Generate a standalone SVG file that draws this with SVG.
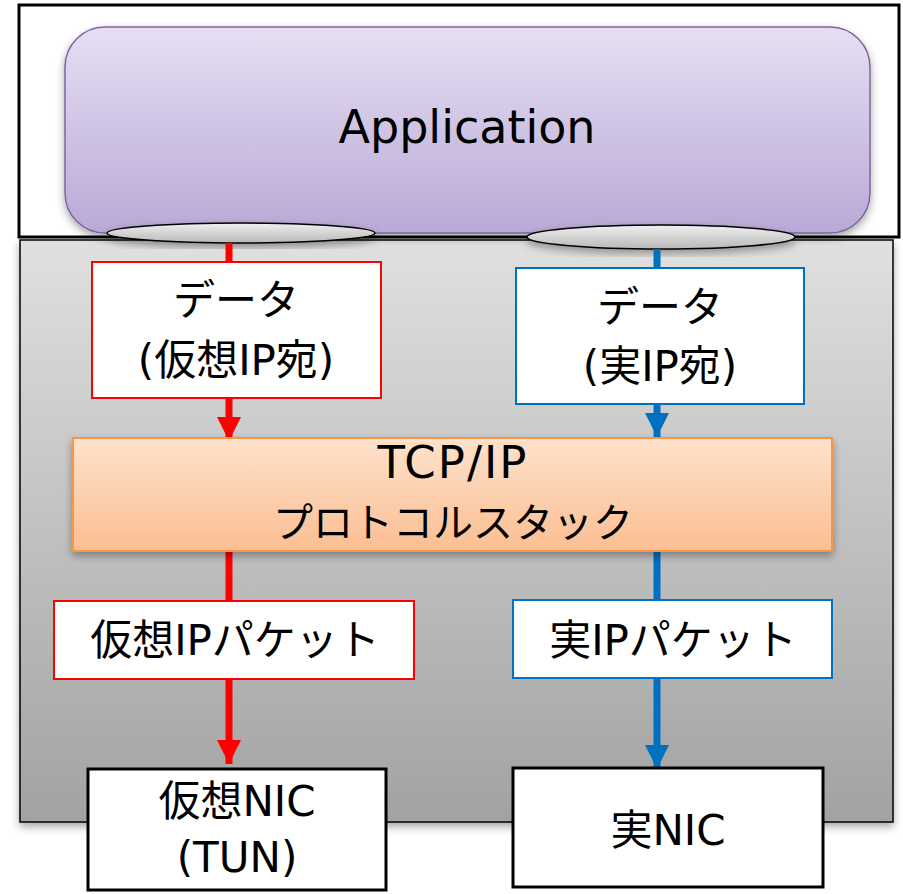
<svg xmlns="http://www.w3.org/2000/svg" width="903" height="894" viewBox="0 0 903 894">
  <defs>
    <linearGradient id="gGray" x1="0" y1="0" x2="0" y2="1">
      <stop offset="0" stop-color="#e0e0e0"/>
      <stop offset="1" stop-color="#a2a2a2"/>
    </linearGradient>
    <linearGradient id="gApp" x1="0" y1="0" x2="0" y2="1">
      <stop offset="0" stop-color="#e6dff3"/>
      <stop offset="1" stop-color="#b9a9d6"/>
    </linearGradient>
    <linearGradient id="gTcp" x1="0" y1="0" x2="0" y2="1">
      <stop offset="0" stop-color="#fee2cc"/>
      <stop offset="1" stop-color="#fbbe92"/>
    </linearGradient>
    <linearGradient id="gPort" x1="0" y1="0" x2="0" y2="1">
      <stop offset="0" stop-color="#f0f0f0"/>
      <stop offset="1" stop-color="#b8b8b8"/>
    </linearGradient>
    <filter id="shadow" x="-10%" y="-20%" width="120%" height="150%">
      <feDropShadow dx="0" dy="4" stdDeviation="4" flood-color="#000" flood-opacity="0.35"/>
    </filter>
    <marker id="headRed" markerUnits="userSpaceOnUse" markerWidth="24" markerHeight="24" refX="24" refY="12" orient="auto">
      <path d="M0,0 L24,12 L0,24 Z" fill="#ff0000"/>
    </marker>
    <marker id="headBlue" markerUnits="userSpaceOnUse" markerWidth="24" markerHeight="24" refX="24" refY="12" orient="auto">
      <path d="M0,0 L24,12 L0,24 Z" fill="#0070c0"/>
    </marker>
  </defs>
  <style>
    text { font-family: "DejaVu Sans", "Noto Sans CJK JP", sans-serif; fill: #000; text-anchor: middle; }
    .lbl { font-size: 42px; }
    .big { font-size: 46px; }
    .red { stroke: #ff0000; stroke-width: 7; fill: none; }
    .blue { stroke: #0070c0; stroke-width: 7; fill: none; }
    .boxRed { fill: #fff; stroke: #ff0000; stroke-width: 2; }
    .boxBlue { fill: #fff; stroke: #0070c0; stroke-width: 2; }
    .nic { fill: #fff; stroke: #000; stroke-width: 3; }
  </style>

  <!-- kernel area -->
  <g id="kernel">
    <rect x="20" y="240" width="873" height="582" fill="url(#gGray)" stroke="#000" stroke-width="1.5" filter="url(#shadow)"/>
  </g>

  <!-- user space frame -->
  <g id="userspace">
    <rect x="19" y="5" width="880" height="232" fill="#fff" stroke="#000" stroke-width="3"/>
  </g>

  <g id="application">
    <rect x="65" y="27" width="805" height="206" rx="40" ry="40" fill="url(#gApp)" stroke="#8064a2" stroke-width="1.5" filter="url(#shadow)"/>
    <text x="467" y="143" class="big">Application</text>
  </g>

  <g id="socket-left">
    <ellipse cx="241" cy="233" rx="134" ry="10" fill="url(#gPort)" stroke="#000" stroke-width="1.5" filter="url(#shadow)"/>
  </g>
  <g id="socket-right">
    <ellipse cx="661" cy="237" rx="134" ry="12" fill="url(#gPort)" stroke="#000" stroke-width="1.5" filter="url(#shadow)"/>
  </g>

  <!-- connectors -->
  <g id="connectors">
    <line class="red" x1="229" y1="243" x2="229" y2="262"/>
    <line class="red" x1="229" y1="398" x2="229" y2="441" marker-end="url(#headRed)"/>
    <line class="red" x1="229" y1="551" x2="229" y2="601"/>
    <line class="red" x1="229" y1="679" x2="229" y2="764" marker-end="url(#headRed)"/>
    <line class="blue" x1="657" y1="249" x2="657" y2="268"/>
    <line class="blue" x1="657" y1="404" x2="657" y2="437" marker-end="url(#headBlue)"/>
    <line class="blue" x1="657" y1="551" x2="657" y2="600"/>
    <line class="blue" x1="657" y1="678" x2="657" y2="769" marker-end="url(#headBlue)"/>
  </g>

  <g id="data-virtual">
    <rect class="boxRed" x="92" y="262" width="289" height="136"/>
    <text x="236" y="315" class="lbl">データ</text>
    <text x="236" y="375" class="lbl">(仮想IP宛)</text>
  </g>

  <g id="data-real">
    <rect class="boxBlue" x="516" y="268" width="288" height="136"/>
    <text x="660" y="322" class="lbl">データ</text>
    <text x="660" y="381" class="lbl">(実IP宛)</text>
  </g>

  <g id="tcpip">
    <rect x="73" y="438" width="759" height="113" fill="url(#gTcp)" stroke="#f79646" stroke-width="2" filter="url(#shadow)"/>
    <text x="453" y="478" style="font-size:45px; letter-spacing:2px">TCP/IP</text>
    <text x="453" y="537" style="font-size:40px">プロトコルスタック</text>
  </g>

  <g id="packet-virtual">
    <rect class="boxRed" x="54" y="601" width="360" height="78"/>
    <text x="235" y="655" class="lbl">仮想IPパケット</text>
  </g>

  <g id="packet-real">
    <rect class="boxBlue" x="513" y="600" width="319" height="78"/>
    <text x="673" y="655" class="lbl">実IPパケット</text>
  </g>

  <g id="nic-virtual">
    <rect class="nic" x="88" y="769" width="298" height="121"/>
    <text x="237" y="816" class="lbl">仮想NIC</text>
    <text x="237" y="872" class="lbl">(TUN)</text>
  </g>

  <g id="nic-real">
    <rect class="nic" x="513" y="768" width="310" height="119"/>
    <text x="668" y="845" class="lbl">実NIC</text>
  </g>
</svg>
